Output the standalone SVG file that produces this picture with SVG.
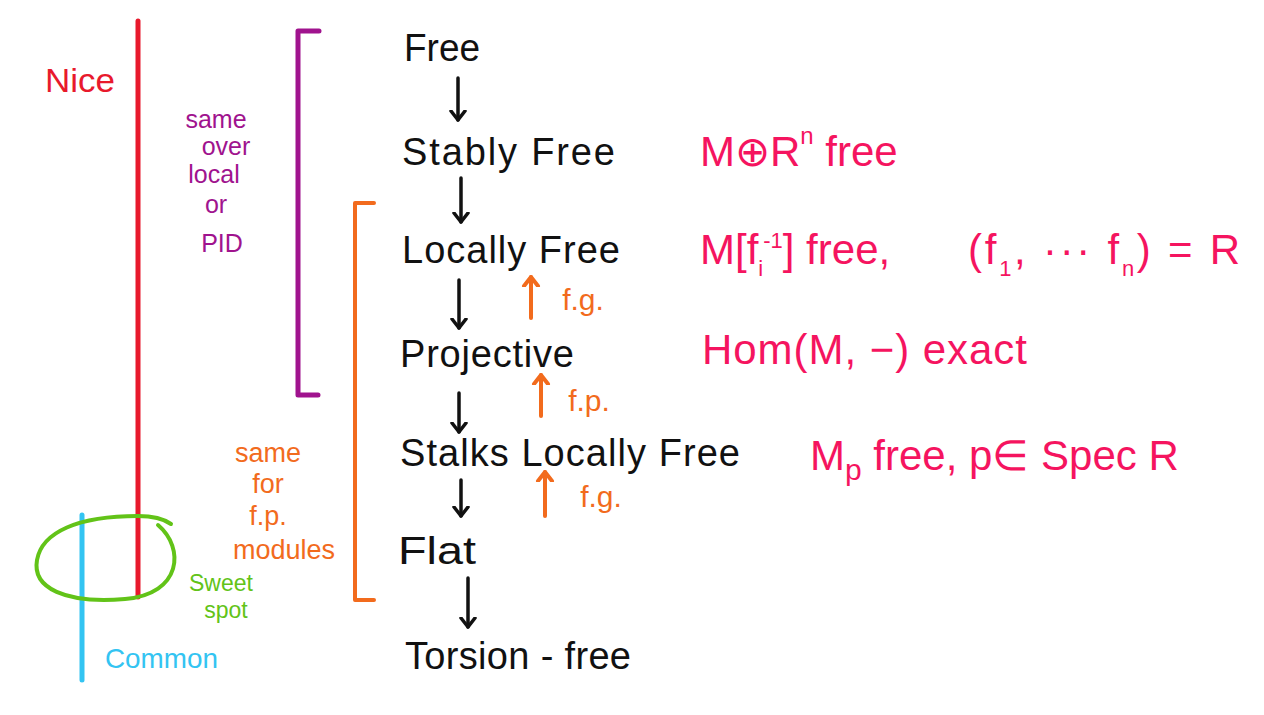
<svg xmlns="http://www.w3.org/2000/svg" width="1264" height="715" viewBox="0 0 1264 715">
<style>
.hand{font-family:"Liberation Sans","Open Sans",sans-serif}
.blk{fill:#111;font-size:38px}
.pink{fill:#f5145f;font-size:42px}
.pur{fill:#a0138e;font-size:25px;text-anchor:middle}
.org{fill:#f26b1d;font-size:27px;text-anchor:middle}
.lbl{font-size:30px}
.grn{fill:#62c318;font-size:23px;text-anchor:middle}
.cyn{fill:#33c4f2;font-size:28px}
.ln{fill:none;stroke-linecap:round;stroke-linejoin:round}
.ka{stroke:#111;stroke-width:3.5}
.oa{stroke:#f26b1d;stroke-width:4}
</style>
<defs>
<marker id="hk" viewBox="-10 -10 20 20" markerWidth="20" markerHeight="20" refX="0" refY="0" orient="auto" markerUnits="userSpaceOnUse">
<polyline points="-9,-7 0,0 -9,7" fill="none" stroke="#111" stroke-width="3.5" stroke-linecap="round" stroke-linejoin="round"/>
</marker>
<marker id="ho" viewBox="-10 -10 20 20" markerWidth="20" markerHeight="20" refX="0" refY="0" orient="auto" markerUnits="userSpaceOnUse">
<polyline points="-9,-7 0,0 -9,7" fill="none" stroke="#f26b1d" stroke-width="4" stroke-linecap="round" stroke-linejoin="round"/>
</marker>
</defs>
<rect width="1264" height="715" fill="#fff"/>

<g id="nice">
<line class="ln" x1="138" y1="21" x2="138" y2="597" stroke="#e8192c" stroke-width="5"/>
<text class="hand" x="45" y="92" fill="#e8192c" font-size="34" textLength="70" lengthAdjust="spacingAndGlyphs">Nice</text>
</g>

<g id="common">
<line class="ln" x1="82" y1="515" x2="82" y2="680" stroke="#33c4f2" stroke-width="5"/>
<text class="hand cyn" x="105" y="668" textLength="113" lengthAdjust="spacingAndGlyphs">Common</text>
</g>

<g id="sweet-spot">
<path class="ln" d="M158 525 C185 548 182 594 125 599 C65 604 32 588 37 560 C42 532 78 516 138 516 C152 516 164 519 171 524" stroke="#62c318" stroke-width="4"/>
<text class="hand grn" x="221" y="591">Sweet</text>
<text class="hand grn" x="226" y="618">spot</text>
</g>

<g id="purple-bracket">
<polyline class="ln" points="319,31 298,31 298,395 318,395" stroke="#a0138e" stroke-width="5"/>
<text class="hand pur" x="216" y="128">same</text>
<text class="hand pur" x="226" y="155">over</text>
<text class="hand pur" x="214" y="183">local</text>
<text class="hand pur" x="216" y="213">or</text>
<text class="hand pur" x="222" y="252" font-size="33">PID</text>
</g>

<g id="orange-bracket">
<polyline class="ln" points="374,203 355,203 355,600 374,600" stroke="#f26b1d" stroke-width="4"/>
<text class="hand org" x="268" y="462">same</text>
<text class="hand org" x="268" y="493">for</text>
<text class="hand org" x="268" y="525">f.p.</text>
<text class="hand org" x="284" y="559">modules</text>
</g>

<g id="connectors">
<line class="ln ka" x1="458" y1="78" x2="458" y2="120" marker-end="url(#hk)"/>
<line class="ln ka" x1="461" y1="178" x2="461" y2="222" marker-end="url(#hk)"/>
<line class="ln ka" x1="459" y1="280" x2="459" y2="328" marker-end="url(#hk)"/>
<line class="ln ka" x1="459" y1="393" x2="459" y2="432" marker-end="url(#hk)"/>
<line class="ln ka" x1="461" y1="480" x2="461" y2="516" marker-end="url(#hk)"/>
<line class="ln ka" x1="468" y1="578" x2="468" y2="627" marker-end="url(#hk)"/>
<line class="ln oa" x1="531" y1="318" x2="531" y2="277" marker-end="url(#ho)"/>
<line class="ln oa" x1="541" y1="416" x2="541" y2="375" marker-end="url(#ho)"/>
<line class="ln oa" x1="545" y1="516" x2="545" y2="472" marker-end="url(#ho)"/>
<text class="hand org lbl" x="583" y="310">f.g.</text>
<text class="hand org lbl" x="589" y="411">f.p.</text>
<text class="hand org lbl" x="601" y="507">f.g.</text>
</g>

<g id="free">
<text class="hand blk" x="404" y="61" textLength="76" lengthAdjust="spacingAndGlyphs">Free</text>
</g>
<g id="stably-free">
<text class="hand blk" x="402" y="165" textLength="213" lengthAdjust="spacing">Stably Free</text>
<text class="hand pink" x="700" y="166">M⊕R<tspan dy="-22" font-size="24">n</tspan><tspan dy="22"> free</tspan></text>
</g>
<g id="locally-free">
<text class="hand blk" x="402" y="263" textLength="218" lengthAdjust="spacing">Locally Free</text>
<text class="hand pink" x="700" y="264">M[f<tspan dy="12" font-size="22">i</tspan><tspan dy="-28" font-size="22">-1</tspan><tspan dy="16">] free,</tspan></text>
<text class="hand pink" x="968" y="264" textLength="272" lengthAdjust="spacing">(f<tspan dy="12" font-size="22">1</tspan><tspan dy="-12">, ··· f</tspan><tspan dy="12" font-size="22">n</tspan><tspan dy="-12">) = R</tspan></text>
</g>
<g id="projective">
<text class="hand blk" x="400" y="367" textLength="174" lengthAdjust="spacing">Projective</text>
<text class="hand pink" x="702" y="364" textLength="325" lengthAdjust="spacing">Hom(M, −)  exact</text>
</g>
<g id="stalks-locally-free">
<text class="hand blk" x="400" y="466" textLength="340" lengthAdjust="spacing">Stalks Locally Free</text>
<text class="hand pink" x="810" y="470">M<tspan dy="10" font-size="30">p</tspan><tspan dy="-10"> free, p∈ Spec R</tspan></text>
</g>
<g id="flat">
<text class="hand blk" x="398" y="564" textLength="78" lengthAdjust="spacingAndGlyphs">Flat</text>
</g>
<g id="torsion-free">
<text class="hand blk" x="405" y="669" textLength="226" lengthAdjust="spacing">Torsion - free</text>
</g>
</svg>
